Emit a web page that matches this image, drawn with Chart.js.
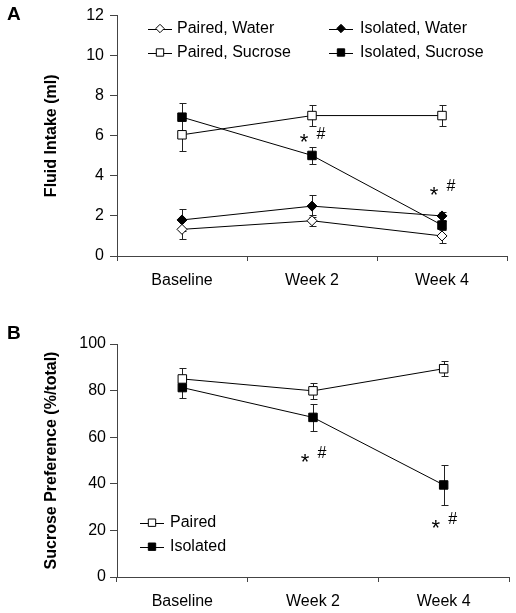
<!DOCTYPE html>
<html>
<head>
<meta charset="utf-8">
<script src="https://cdn.jsdelivr.net/npm/chart.js@4/dist/chart.umd.min.js"></script>
<style>
  html, body { margin: 0; padding: 0; background: #fff; }
  body { width: 516px; height: 613px; position: relative; overflow: hidden; font-family: "Liberation Sans", Arial, sans-serif; }
  .wrap { position: absolute; left: 0; width: 516px; }
  #wa { top: 0; height: 300px; }
  #wb { top: 300px; height: 313px; }
  .lab { position: absolute; left: 7px; font-weight: bold; font-size: 19px; line-height: 1; color: #000; }
</style>
</head>
<body>
<div class="wrap" id="wa"><canvas id="ca" width="516" height="300"></canvas></div>
<div class="wrap" id="wb"><canvas id="cb" width="516" height="313"></canvas></div>
<div class="lab" style="top:4px">A</div>
<div class="lab" style="top:323px">B</div>
<script>
// ---------- data ----------
const categories = ['Baseline', 'Week 2', 'Week 4'];

// Panel A: fluid intake (ml)
const pairedWater        = [1.33, 1.76, 1.00];
const pairedWaterErr     = [0.47, 0.28, 0.37];
const isolatedWater      = [1.80, 2.49, 2.00];
const isolatedWaterErr   = [0.55, 0.56, 0.20];
const pairedSucrose      = [6.05, 7.01, 7.01];
const pairedSucroseErr   = [0.83, 0.52, 0.52];
const isolatedSucrose    = [6.93, 5.02, 1.54];
const isolatedSucroseErr = [0.73, 0.42, 0.22];
const yTicksA = [0, 2, 4, 6, 8, 10, 12];
const sigA = [[1, 5.97], [2, 3.37]];   // [category index, value] of "* #" marks

// Panel B: sucrose preference (%/total)
const paired      = [85.0, 79.9, 89.4];
const pairedErr   = [4.5, 3.3, 3.3];
const isolated    = [81.3, 68.5, 39.5];
const isolatedErr = [4.6, 5.9, 8.6];
const yTicksB = [0, 20, 40, 60, 80, 100];
const sigB = [[1, 52.0], [2, 23.6]];

// ---------- helpers ----------
const FONT = '"Liberation Sans", Arial, sans-serif';
Chart.defaults.font.family = FONT;
Chart.defaults.color = '#000';

function series(label, data, err, style, filled) {
  const isDiamond = style === 'rectRot';
  return {
    label, data, err,
    borderColor: '#000', borderWidth: 1,
    pointStyle: style,
    pointRadius: isDiamond ? 5 : 6,
    pointHoverRadius: isDiamond ? 5 : 6,
    pointBackgroundColor: filled ? '#000' : '#fff',
    pointBorderColor: '#000', pointBorderWidth: 1,
    fill: false, tension: 0
  };
}

const errorBars = {
  id: 'errorBars',
  beforeDatasetsDraw(chart) {
    const ctx = chart.ctx, ys = chart.scales.y;
    ctx.save();
    ctx.strokeStyle = '#222'; ctx.lineWidth = 1;
    chart.data.datasets.forEach((ds, i) => {
      if (!ds.err) return;
      chart.getDatasetMeta(i).data.forEach((pt, j) => {
        const v = ds.data[j], e = ds.err[j];
        const x = Math.round(pt.x) + 0.5;
        const y1 = Math.round(ys.getPixelForValue(v + e)) + 0.5;
        const y2 = Math.round(ys.getPixelForValue(v - e)) + 0.5;
        ctx.beginPath();
        ctx.moveTo(x, y1); ctx.lineTo(x, y2);
        ctx.moveTo(x - 3, y1); ctx.lineTo(x + 4, y1);
        ctx.moveTo(x - 3, y2); ctx.lineTo(x + 4, y2);
        ctx.stroke();
      });
    });
    ctx.restore();
  }
};

const sigMarks = {
  id: 'sigMarks',
  afterDatasetsDraw(chart, args, opts) {
    const ctx = chart.ctx, xs = chart.scales.x, ys = chart.scales.y;
    ctx.save();
    ctx.fillStyle = '#000';
    ctx.textAlign = 'center';
    ctx.textBaseline = 'middle';
    (opts.marks || []).forEach(([c, v]) => {
      const x = xs.getPixelForValue(c), y = ys.getPixelForValue(v);
      ctx.font = '22px ' + FONT;
      ctx.fillText('*', x - 8, y + 7);
      ctx.font = '16px ' + FONT;
      ctx.fillText('#', x + 9, y - 2);
    });
    ctx.restore();
  }
};

const customLegend = {
  id: 'customLegend',
  afterDraw(chart, args, opts) {
    const ctx = chart.ctx;
    (opts.items || []).forEach(it => {
      const ds = chart.data.datasets[it.index];
      ctx.save();
      ctx.strokeStyle = '#000'; ctx.lineWidth = 1;
      ctx.beginPath();
      ctx.moveTo(it.x - 12, Math.round(it.y) + 0.5);
      ctx.lineTo(it.x + 12, Math.round(it.y) + 0.5);
      ctx.stroke();
      ctx.fillStyle = ds.pointBackgroundColor;
      ctx.strokeStyle = '#000';
      Chart.helpers.drawPoint(ctx, { pointStyle: ds.pointStyle, radius: ds.pointRadius - 0.8, borderWidth: 1 }, it.x, it.y);
      ctx.fillStyle = '#000';
      ctx.font = '16px ' + FONT;
      ctx.textAlign = 'left'; ctx.textBaseline = 'middle';
      ctx.fillText(ds.label, it.tx, it.y);
      ctx.restore();
    });
  }
};

function makeOptions(cfg) {
  return {
    responsive: false,
    animation: false,
    events: [],
    layout: { padding: { top: cfg.top, right: cfg.right, left: 0, bottom: 0 } },
    plugins: {
      legend: { display: false },
      tooltip: { enabled: false },
      sigMarks: { marks: cfg.marks },
      customLegend: { items: cfg.legend }
    },
    scales: {
      x: {
        type: 'category',
        offset: true,
        grid: { offset: true, drawOnChartArea: false, drawTicks: true, tickLength: 5, color: '#444', lineWidth: 1 },
        border: { display: true, color: '#444', width: 1 },
        ticks: { font: { size: 16 }, color: '#000', padding: 10, maxRotation: 0 },
        afterFit: s => { s.height = cfg.xh; }
      },
      y: {
        min: cfg.min, max: cfg.max,
        afterBuildTicks: s => { s.ticks = cfg.yticks.map(v => ({ value: v })); },
        grid: { drawOnChartArea: false, drawTicks: true, tickLength: 7, color: '#444', lineWidth: 1 },
        border: { display: true, color: '#444', width: 1 },
        ticks: { font: { size: 16 }, color: '#000', padding: cfg.tpad },
        title: { display: true, text: cfg.title, font: { size: 16, weight: 'bold' }, color: '#000', padding: { top: 42, bottom: 0 } },
        afterFit: s => { s.width = 117; }
      }
    }
  };
}

new Chart(document.getElementById('ca'), {
  type: 'line',
  data: {
    labels: categories,
    datasets: [
      series('Paired, Water', pairedWater, pairedWaterErr, 'rectRot', false),
      series('Isolated, Water', isolatedWater, isolatedWaterErr, 'rectRot', true),
      series('Paired, Sucrose', pairedSucrose, pairedSucroseErr, 'rect', false),
      series('Isolated, Sucrose', isolatedSucrose, isolatedSucroseErr, 'rect', true)
    ]
  },
  options: makeOptions({
    top: 15, right: 9, xh: 44, min: 0, max: 12, yticks: yTicksA, tpad: 6,
    title: 'Fluid Intake (ml)', marks: sigA,
    legend: [
      { index: 0, x: 160, y: 28.5, tx: 177 },
      { index: 1, x: 341, y: 28.5, tx: 360 },
      { index: 2, x: 160, y: 52.5, tx: 177 },
      { index: 3, x: 341, y: 52.5, tx: 360 }
    ]
  }),
  plugins: [errorBars, sigMarks, customLegend]
});

new Chart(document.getElementById('cb'), {
  type: 'line',
  data: {
    labels: categories,
    datasets: [
      series('Paired', paired, pairedErr, 'rect', false),
      series('Isolated', isolated, isolatedErr, 'rect', true)
    ]
  },
  options: makeOptions({
    top: 44, right: 7, xh: 36, min: 0, max: 100, yticks: yTicksB, tpad: 4,
    title: 'Sucrose Preference (%/total)', marks: sigB,
    legend: [
      { index: 0, x: 152, y: 222.7, tx: 170 },
      { index: 1, x: 152, y: 246.7, tx: 170 }
    ]
  }),
  plugins: [errorBars, sigMarks, customLegend]
});
</script>
</body>
</html>
